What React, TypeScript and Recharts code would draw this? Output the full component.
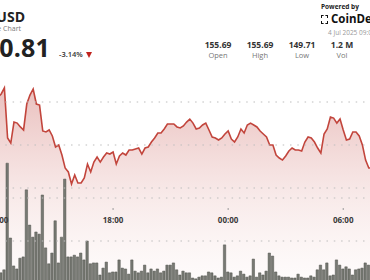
import { ComposedChart, Area, Bar, XAxis, YAxis, ReferenceLine } from 'recharts'

// minutes after 12:00, one bar every 10 minutes
const minutes: number[] = Array.from({ length: 118 }, (_, i) => i * 10)

const prices: number[] = [
  155.85, 156.06, 156.48, 152.99, 152.64, 154.1, 154.03, 153.76, 153.55, 155.36,
  155.99, 156.41, 155.36, 155.29, 153.48, 153.41, 153.55, 153.13, 152.36, 152.5,
  151.8, 150.9, 150.62, 149.78, 150.41, 149.85, 149.85, 150.2, 151.17, 150.62,
  151.31, 151.66, 151.31, 151.66, 151.94, 151.87, 152.01, 151.17, 151.73, 151.94,
  151.8, 152.15, 152.15, 152.22, 152.29, 151.87, 152.29, 152.36, 152.71, 152.99,
  153.34, 153.34, 153.62, 153.97, 153.97, 153.97, 153.76, 153.69, 153.83, 154.1,
  154.31, 154.03, 153.62, 153.69, 153.9, 154.03, 153.55, 153.06, 152.99, 152.85,
  152.99, 153.27, 153.48, 152.92, 152.71, 153.06, 153.62, 153.34, 153.9, 154.03,
  153.9, 153.76, 153.48, 153.27, 153.06, 152.5, 152.5, 151.8, 151.59, 151.45,
  151.73, 152.08, 152.29, 152.15, 152.15, 152.08, 152.71, 153.06, 152.99, 152.71,
  152.29, 151.94, 153.27, 153.62, 154.45, 154.38, 154.03, 154.31, 153.55, 152.85,
  152.92, 153.41, 153.41, 153.13, 152.5, 151.45, 150.9, 150.9,
]

// volume in thousands
const volumes: number[] = [
  25, 26, 33, 281, 107, 42, 35, 60, 63, 219,
  137, 109, 121, 116, 207, 84, 47, 72, 147, 49,
  109, 244, 63, 63, 67, 63, 72, 56, 100, 47,
  49, 49, 21, 37, 51, 26, 28, 28, 56, 37,
  35, 23, 56, 30, 26, 30, 44, 26, 35, 30,
  35, 26, 30, 44, 44, 49, 33, 21, 30, 26,
  26, 14, 12, 16, 19, 19, 28, 26, 19, 14,
  16, 91, 28, 26, 16, 19, 30, 23, 16, 19,
  58, 16, 26, 21, 30, 72, 65, 28, 19, 16,
  16, 16, 14, 14, 23, 16, 14, 14, 19, 16,
  33, 44, 33, 49, 19, 21, 56, 44, 35, 40,
  35, 21, 33, 35, 37, 49, 44, 40,
]

const timeTicks: number[] = [0, 360, 720, 1080]
const timeLabels: string[] = ['12:00', '18:00', '00:00', '06:00']
const priceGrid: number[] = [149.5, 152.5, 155.5]
const volumeGrid: number[] = [100, 200]

const stats = [
  { value: '155.69', label: 'Open', center: 218 },
  { value: '155.69', label: 'High', center: 260 },
  { value: '149.71', label: 'Low', center: 302 },
  { value: '1.2 M', label: 'Vol', center: 342 },
]

const rows = minutes.map((t, i) => ({ t, price: prices[i], vol: volumes[i] }))

// the time labels sit between the price and volume panes, well above the axis
function TimeTick(props: any) {
  const { x, payload } = props
  const label = timeLabels[timeTicks.indexOf(payload.value)]
  return (
    <g>
      <line x1={x} x2={x} y1={208} y2={210} stroke="#9a9a9a" strokeWidth={1} />
      <text
        x={x}
        y={223}
        textAnchor="middle"
        fontSize={8}
        fontWeight={700}
        fill="#3a3a3a"
        fontFamily='"Open Sans", sans-serif'
      >
        {label}
      </text>
    </g>
  )
}

export default function App() {
  return (
    <div
      style={{
        position: 'fixed',
        left: 0,
        top: 0,
        width: 370,
        height: 280,
        overflow: 'hidden',
        background: '#fff',
        fontFamily: '"Open Sans", sans-serif',
        color: '#222',
      }}
    >
      <div style={{ position: 'absolute', left: -2, top: 0 }}>
        <ComposedChart width={374} height={314} data={rows} margin={{ top: 0, right: 0, bottom: 0, left: 0 }}>
          <defs>
            <linearGradient id="priceFill" x1="0" y1="0" x2="0" y2="1">
              <stop offset="0%" stopColor="#c4504a" stopOpacity={0.6} />
              <stop offset="55%" stopColor="#d0716c" stopOpacity={0.25} />
              <stop offset="100%" stopColor="#e09a96" stopOpacity={0.05} />
            </linearGradient>
          </defs>
          <XAxis
            dataKey="t"
            type="number"
            domain={[0, 1170]}
            ticks={timeTicks}
            height={30}
            axisLine={false}
            tickLine={false}
            tick={TimeTick}
            interval={0}
          />
          <YAxis yAxisId="p" hide type="number" domain={[142.8, 162.62]} allowDataOverflow />
          <YAxis yAxisId="v" hide type="number" domain={[0, 660.5]} allowDataOverflow />
          <Area
            yAxisId="p"
            type="linear"
            dataKey="price"
            stroke="#c2453c"
            strokeWidth={1.6}
            fill="url(#priceFill)"
            isAnimationActive={false}
            dot={false}
            activeDot={false}
          />
          {priceGrid.map((v) => (
            <ReferenceLine key={v} yAxisId="p" y={v} stroke="#bdbdbd" strokeDasharray="1.5 5.8" strokeWidth={1.2} />
          ))}
          {volumeGrid.map((v) => (
            <ReferenceLine key={v} yAxisId="v" y={v} stroke="#bdbdbd" strokeDasharray="1.5 5.8" strokeWidth={1.2} />
          ))}
          <Bar
            yAxisId="v"
            dataKey="vol"
            fill="#777973"
            stroke="#50524d"
            strokeWidth={0.5}
            barSize={2.4}
            isAnimationActive={false}
          />
        </ComposedChart>
      </div>

      {/* header */}
      <div style={{ position: 'absolute', left: -80, width: 105, top: 9, textAlign: 'right', fontSize: 14, fontWeight: 700, lineHeight: '16px' }}>
        SOL/USD
      </div>
      <div style={{ position: 'absolute', left: -80, width: 101, top: 25, textAlign: 'right', fontSize: 7, color: '#777', lineHeight: '8px' }}>
        Price Chart
      </div>
      <div style={{ position: 'absolute', left: -80, width: 130, top: 33, textAlign: 'right', fontSize: 25, fontWeight: 700, lineHeight: '28px', letterSpacing: 0.2 }}>
        150.81
      </div>
      <div style={{ position: 'absolute', left: 59, top: 50, fontSize: 7.5, fontWeight: 600, color: '#333', lineHeight: '9px' }}>
        -3.14%
      </div>
      <div style={{ position: 'absolute', left: 86, top: 52, width: 0, height: 0, borderLeft: '3.5px solid transparent', borderRight: '3.5px solid transparent', borderTop: '6px solid #c0231e' }} />

      {stats.map((s) => (
        <div key={s.label} style={{ position: 'absolute', left: s.center - 25, width: 50, top: 39, textAlign: 'center' }}>
          <div style={{ fontSize: 8.5, fontWeight: 700, color: '#333', lineHeight: '11px' }}>{s.value}</div>
          <div style={{ fontSize: 7.5, color: '#777', lineHeight: '10px', marginTop: 0 }}>{s.label}</div>
        </div>
      ))}

      <div style={{ position: 'absolute', left: 321, top: 3, fontSize: 6.5, fontWeight: 700, color: '#222', lineHeight: '8px', whiteSpace: 'nowrap' }}>
        Powered by
      </div>
      <div style={{ position: 'absolute', left: 321, top: 15, width: 7, height: 9, border: '1.5px dashed #111', boxSizing: 'border-box' }} />
      <div style={{ position: 'absolute', left: 331, top: 12, fontSize: 11.5, fontWeight: 700, color: '#111', lineHeight: '14px', whiteSpace: 'nowrap' }}>
        CoinDesk
      </div>
      <div style={{ position: 'absolute', left: 328, top: 29, fontSize: 6.5, color: '#999', lineHeight: '8px', whiteSpace: 'nowrap' }}>
        4 Jul 2025 09:05 UTC
      </div>
    </div>
  )
}
